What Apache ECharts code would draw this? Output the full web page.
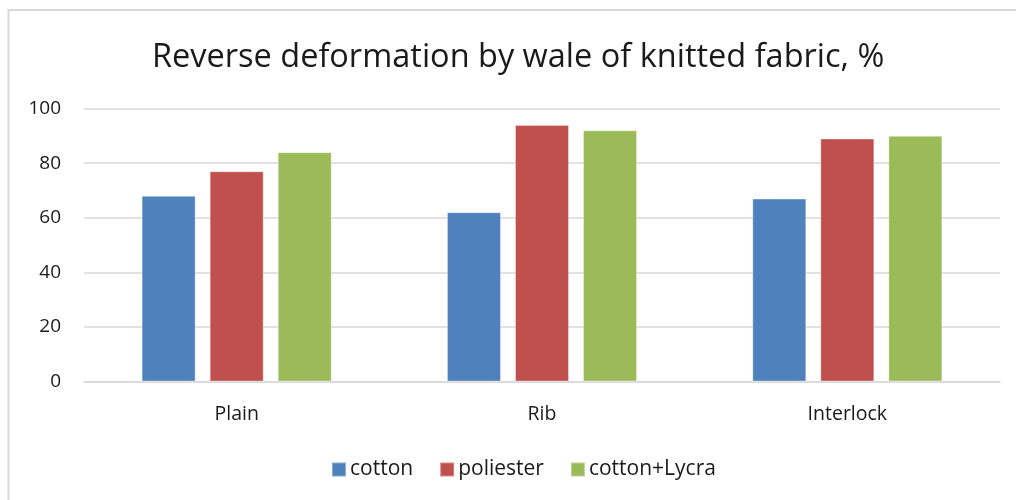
<!DOCTYPE html>
<html>
<head>
<meta charset="utf-8">
<script src="https://cdn.jsdelivr.net/npm/echarts@6/dist/echarts.min.js"></script>
<style>
  html, body { margin: 0; padding: 0; background: #fff; }
  #chart { width: 1016px; height: 500px; }
</style>
</head>
<body>
<div id="chart"></div>
<script>
// Fabric structures along the x axis
const categories = ['Plain', 'Rib', 'Interlock'];

// Reverse deformation by wale, %
const cotton = [68, 62, 67];
const poliester = [77, 94, 89];
const cottonLycra = [84, 92, 90];

const seriesNames = ['cotton', 'poliester', 'cotton+Lycra'];
const seriesColors = ['#4f81bd', '#c0504d', '#9bbb59'];
const seriesData = [cotton, poliester, cottonLycra];

// Value axis ticks
const yTicks = [0, 20, 40, 60, 80, 100];

const font = '"Open Sans", "Noto Sans", sans-serif';

const chart = echarts.init(document.getElementById('chart'), null, { renderer: 'canvas' });

chart.setOption({
  animation: false,
  backgroundColor: '#ffffff',
  title: {
    text: 'Reverse deformation by wale of knitted fabric, %',
    left: 152,
    top: 41,
    padding: 0,
    textStyle: { fontFamily: font, fontSize: 32.5, fontWeight: 'normal', color: '#1a1a1a' }
  },
  legend: {
    bottom: 20,
    left: 331,
    padding: 0,
    itemWidth: 14,
    itemHeight: 14,
    itemGap: 26,
    icon: 'rect',
    data: seriesNames,
    textStyle: { fontFamily: font, fontSize: 21, color: '#1a1a1a', padding: [0, 0, 0, -1] }
  },
  grid: { left: 84, right: 16, top: 108.5, bottom: 118.5, containLabel: false },
  xAxis: {
    type: 'category',
    data: categories,
    axisLine: { lineStyle: { color: '#d9d9d9', width: 1.5 } },
    axisTick: { show: false },
    axisLabel: { fontFamily: font, fontSize: 19.5, color: '#1a1a1a', margin: 23 }
  },
  yAxis: {
    type: 'value',
    min: yTicks[0],
    max: yTicks[yTicks.length - 1],
    interval: 20,
    axisLine: { show: false },
    axisTick: { show: false },
    splitLine: { lineStyle: { color: '#d9d9d9', width: 1.5 } },
    axisLabel: { fontFamily: font, fontSize: 19, color: '#1a1a1a', margin: 23 }
  },
  series: seriesNames.map((name, i) => ({
    name,
    type: 'bar',
    data: seriesData[i],
    barWidth: 54,
    barGap: '26%',
    itemStyle: { color: seriesColors[i], borderColor: 'rgba(255,255,255,0.35)', borderWidth: 1 }
  })),
  graphic: [{
    type: 'rect',
    shape: { x: 8.5, y: 10, width: 1100, height: 600 },
    style: { fill: 'none', stroke: '#d9d9d9', lineWidth: 2 },
    silent: true,
    z: -1
  }]
});
</script>
</body>
</html>
